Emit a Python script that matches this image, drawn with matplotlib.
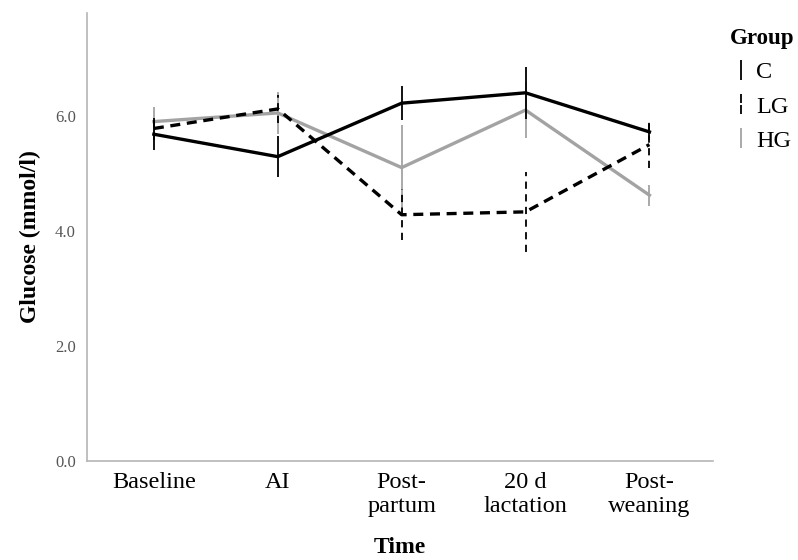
import matplotlib.pyplot as plt
from matplotlib.lines import Line2D
from matplotlib.path import Path

plt.rcParams['font.family'] = ['Liberation Serif', 'DejaVu Serif']

# categorias del eje x
tiempos = ["Baseline", "AI", "Post-\npartum", "20 d\nlactation", "Post-\nweaning"]

# medias y errores por grupo (mmol/l)
c_media = [5.68, 5.29, 6.22, 6.40, 5.72]
c_error = [0.28, 0.36, 0.30, 0.45, 0.14]
lg_media = [5.78, 6.12, 4.28, 4.33, 5.50]
lg_error = [0.20, 0.25, 0.44, 0.70, 0.40]
hg_media = [5.90, 6.05, 5.10, 6.10, 4.62]
hg_error = [0.25, 0.36, 0.74, 0.48, 0.18]

gris = '#a3a3a3'
x = list(range(len(tiempos)))

fig = plt.figure(figsize=(7.98, 5.6), dpi=100)
ax = fig.add_axes([0.109, 0.177, 0.784, 0.8])

# C: negro continuo
ax.errorbar(x, c_media, yerr=c_error, color='black', lw=2.4,
            elinewidth=1.3, capsize=0, zorder=3)
# LG: negro discontinuo
eb = ax.errorbar(x, lg_media, yerr=lg_error, color='black', lw=2.4,
                 ls=(0, (3, 2)), elinewidth=1.3, capsize=0, zorder=2)
for col in eb[2]:
    col.set_linestyle((0, (4, 3)))
# HG: gris
ax.errorbar(x, hg_media, yerr=hg_error, color=gris, lw=2.4,
            elinewidth=1.3, capsize=0, zorder=1)

ax.set_xlim(-0.54, 4.51)
ax.set_ylim(0, 7.79)
ax.set_xticks(x)
ax.set_xticklabels(tiempos, fontsize=17.5, linespacing=1.2)
ax.set_yticks([0, 2, 4, 6])
ax.set_yticklabels(['0.0', '2.0', '4.0', '6.0'], fontsize=12, color='#555555')
ax.tick_params(axis='both', length=0)
ax.tick_params(axis='x', pad=8)
ax.tick_params(axis='y', pad=8)

for lado in ['top', 'right']:
    ax.spines[lado].set_visible(False)
for lado in ['left', 'bottom']:
    ax.spines[lado].set_color('#b5b5b5')
    ax.spines[lado].set_linewidth(1.2)

ax.set_xlabel('Time', fontsize=17, fontweight='bold', labelpad=14)
ax.set_ylabel('Glucose (mmol/l)', fontsize=17, fontweight='bold', labelpad=10)

# leyenda con barras verticales
barra = '|'
barra_cortada = Path([(0, -1), (0, -0.15), (0, 0.15), (0, 1)],
                     [Path.MOVETO, Path.LINETO, Path.MOVETO, Path.LINETO])
manejadores = [
    Line2D([], [], ls='none', marker=barra, color='black', markersize=14, mew=1.3),
    Line2D([], [], ls='none', marker=barra_cortada, color='black', markersize=14, mew=1.3),
    Line2D([], [], ls='none', marker=barra, color=gris, markersize=14, mew=1.3),
]
ley = fig.legend(manejadores, ['C', 'LG', 'HG'], title='Group',
                 loc='upper left', bbox_to_anchor=(0.893, 0.98),
                 frameon=False, fontsize=17.5, handlelength=0.9,
                 handletextpad=0.2, labelspacing=0.5, borderpad=0.2,
                 alignment='left',
                 title_fontproperties={'weight': 'bold', 'size': 16.5})

plt.savefig('out.png')
